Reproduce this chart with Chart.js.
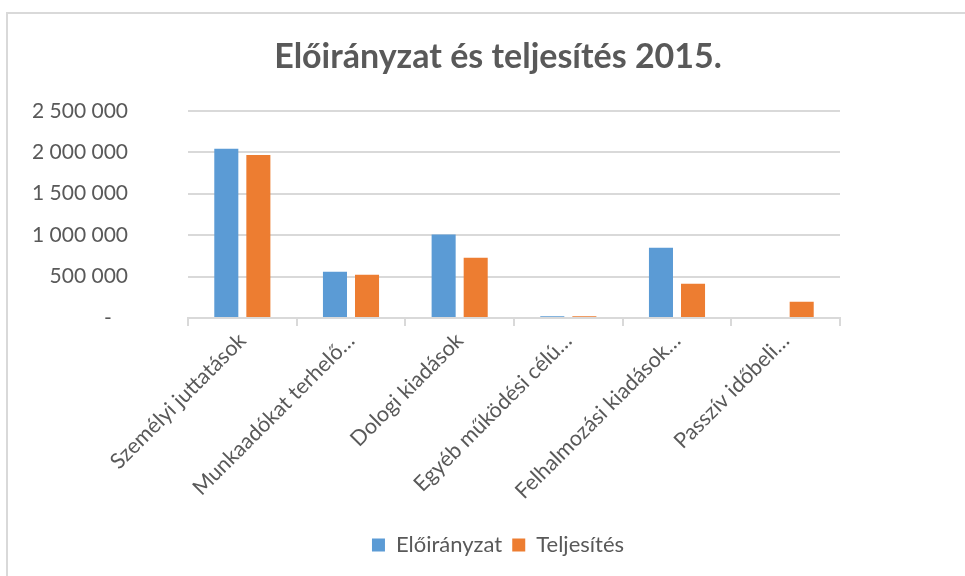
<!DOCTYPE html>
<html>
<head>
<meta charset="utf-8">
<script src="https://cdn.jsdelivr.net/npm/chart.js@4/dist/chart.umd.min.js"></script>
<style>
  html, body { margin:0; padding:0; background:#fff; }
  #frame { position:absolute; left:6px; top:12px; width:1000px; height:600px; border-left:2px solid #d9d9d9; border-top:2px solid #d9d9d9; }
  #wrap { position:absolute; left:0; top:0; width:965px; height:576px; }
</style>
</head>
<body>
<div id="frame"></div>
<div id="wrap"><canvas id="chart"></canvas></div>
<script>
// data
const categories = ['Személyi juttatások', 'Munkaadókat terhelő…', 'Dologi kiadások', 'Egyéb működési célú…', 'Felhalmozási kiadások…', 'Passzív időbeli…'];
const eloiranyzat = [2041000, 559000, 1006000, 22000, 849000, 0];
const teljesites  = [1968000, 523000, 728000, 20000, 414000, 197000];
const yTicks = [0, 500000, 1000000, 1500000, 2000000, 2500000];

const grey = '#595959';
const lineCol = '#d9d9d9';
const font = 'Lato, "Open Sans", sans-serif';

function fmt(v){
  if (v === 0) return '-   ';
  return String(v).replace(/\B(?=(\d{3})+(?!\d))/g, ' ');
}

new Chart(document.getElementById('chart'), {
  type: 'bar',
  data: {
    labels: categories,
    datasets: [
      {label:'Előirányzat', data:eloiranyzat, backgroundColor:'#5B9BD5', categoryPercentage:0.59, barPercentage:0.75},
      {label:'Teljesítés',  data:teljesites,  backgroundColor:'#ED7D31', categoryPercentage:0.59, barPercentage:0.75}
    ]
  },
  options: {
    responsive: true,
    maintainAspectRatio: false,
    animation: false,
    layout: { padding: {left:31, right:0, top:0, bottom:10} },
    plugins: {
      title: {
        display: true,
        text: 'Előirányzat és teljesítés 2015.',
        color: grey,
        font: {family:font, size:34, weight:'bold'},
        padding: {top:37, bottom:33}
      },
      legend: {
        position: 'bottom',
        labels: {
          color: grey,
          font: {family:font, size:22},
          boxWidth: 13, boxHeight: 13,
          padding: 10
        }
      },
      tooltip: {enabled:false}
    },
    scales: {
      x: {
        grid: {drawOnChartArea:false, drawTicks:true, tickLength:8, color:lineCol, lineWidth:2},
        border: {color:lineCol, width:2},
        ticks: {color:grey, font:{family:font, size:21.5}, maxRotation:45, minRotation:45, autoSkip:false, padding:2},
        afterFit: s => { s.height = 206; }
      },
      y: {
        min: 0, max: 2500000,
        afterBuildTicks: s => { s.ticks = yTicks.map(v => ({value:v})); },
        grid: {color:lineCol, lineWidth:2, drawTicks:false},
        border: {display:false},
        ticks: {color:grey, font:{family:font, size:21}, padding:60, callback: v => fmt(v)},
        afterFit: s => { s.width = 157; }
      },
      y2: {
        position: 'right',
        display: true,
        grid: {display:false},
        border: {display:false},
        ticks: {display:false},
        afterFit: s => { s.width = 125; }
      }
    }
  }
});
</script>
</body>
</html>
